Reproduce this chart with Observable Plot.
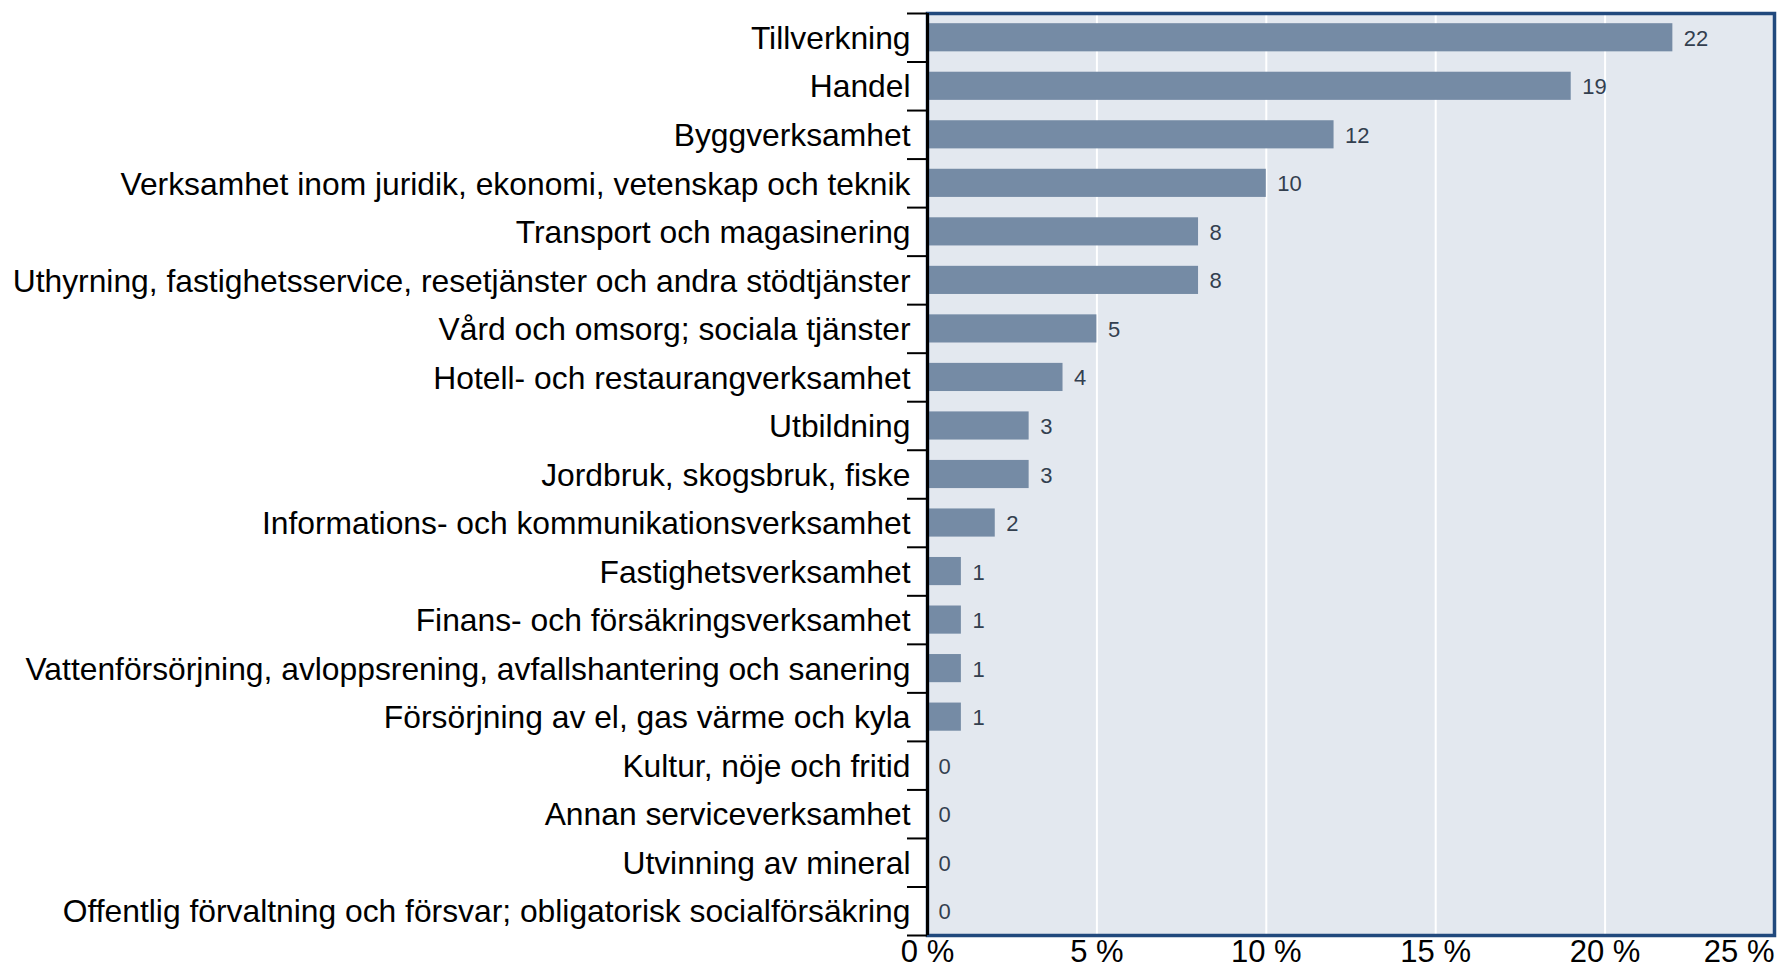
<!DOCTYPE html>
<html><head><meta charset="utf-8">
<script src="https://cdn.jsdelivr.net/npm/d3@7"></script>
<script src="https://cdn.jsdelivr.net/npm/@observablehq/plot@0.6"></script>
<style>html,body{margin:0;padding:0;background:#fff}</style>
</head><body><div id="chart"></div>
<script>
const categories = [
  "Tillverkning",
  "Handel",
  "Byggverksamhet",
  "Verksamhet inom juridik, ekonomi, vetenskap och teknik",
  "Transport och magasinering",
  "Uthyrning, fastighetsservice, resetjänster och andra stödtjänster",
  "Vård och omsorg; sociala tjänster",
  "Hotell- och restaurangverksamhet",
  "Utbildning",
  "Jordbruk, skogsbruk, fiske",
  "Informations- och kommunikationsverksamhet",
  "Fastighetsverksamhet",
  "Finans- och försäkringsverksamhet",
  "Vattenförsörjning, avloppsrening, avfallshantering och sanering",
  "Försörjning av el, gas värme och kyla",
  "Kultur, nöje och fritid",
  "Annan serviceverksamhet",
  "Utvinning av mineral",
  "Offentlig förvaltning och försvar; obligatorisk socialförsäkring"
];
const values = [22, 19, 12, 10, 8, 8, 5, 4, 3, 3, 2, 1, 1, 1, 1, 0, 0, 0, 0];
const xTicks = [0, 5, 10, 15, 20, 25];
const xTickLabels = ["0 %", "5 %", "10 %", "15 %", "20 %", "25 %"];

const data = categories.map((c, i) => ({category: c, value: values[i]}));

const W = 1779, H = 966, mt = 13, mb = 31, ml = 927, mr = 5;
const step = (H - mt - mb) / categories.length;
const fmtX = d => xTickLabels[xTicks.indexOf(d)];

const chart = Plot.plot({
  width: W,
  height: H,
  marginTop: mt,
  marginBottom: mb,
  marginLeft: ml,
  marginRight: mr,
  style: {fontFamily: "'Liberation Sans', Arial, sans-serif", background: "white", color: "black"},
  x: {domain: [xTicks[0], xTicks[xTicks.length - 1]], axis: null, label: null},
  y: {domain: categories, paddingInner: 0.42, paddingOuter: 0.21, round: false, axis: null, label: null},
  marks: [
    Plot.frame({fill: "#e3e8ef", stroke: null}),
    Plot.gridX(xTicks, {stroke: "white", strokeOpacity: 1, strokeWidth: 2}),
    Plot.barX(data, {x: "value", y: "category", fill: "#758ba5"}),
    Plot.text(data, {x: "value", y: "category", text: d => String(d.value), textAnchor: "start", dx: 11, dy: 1, fontSize: 22, fill: "#333f4f"}),
    Plot.frame({stroke: "#21497d", strokeWidth: 3.5}),
    Plot.ruleX([0], {stroke: "black", strokeWidth: 3}),
    Plot.axisY({tickSize: 0, tickPadding: 17, fontSize: 31.8, dy: 1, fill: "black", label: null}),
    Plot.axisY({tickSize: 20, tickFormat: () => "", dy: -step / 2, stroke: "black", strokeWidth: 2, label: null}),
    Plot.axisY({ticks: [categories[categories.length - 1]], tickSize: 20, tickFormat: () => "", dy: step / 2, stroke: "black", strokeWidth: 2, label: null}),
    Plot.axisX({ticks: xTicks.slice(0, -1), tickSize: 0, tickPadding: 4, tickFormat: fmtX, fontSize: 31, fill: "black", label: null}),
    Plot.axisX({ticks: xTicks.slice(-1), tickSize: 0, tickPadding: 4, tickFormat: fmtX, fontSize: 31, fill: "black", textAnchor: "end", label: null})
  ]
});
document.getElementById("chart").appendChild(chart);
</script>
</body></html>
